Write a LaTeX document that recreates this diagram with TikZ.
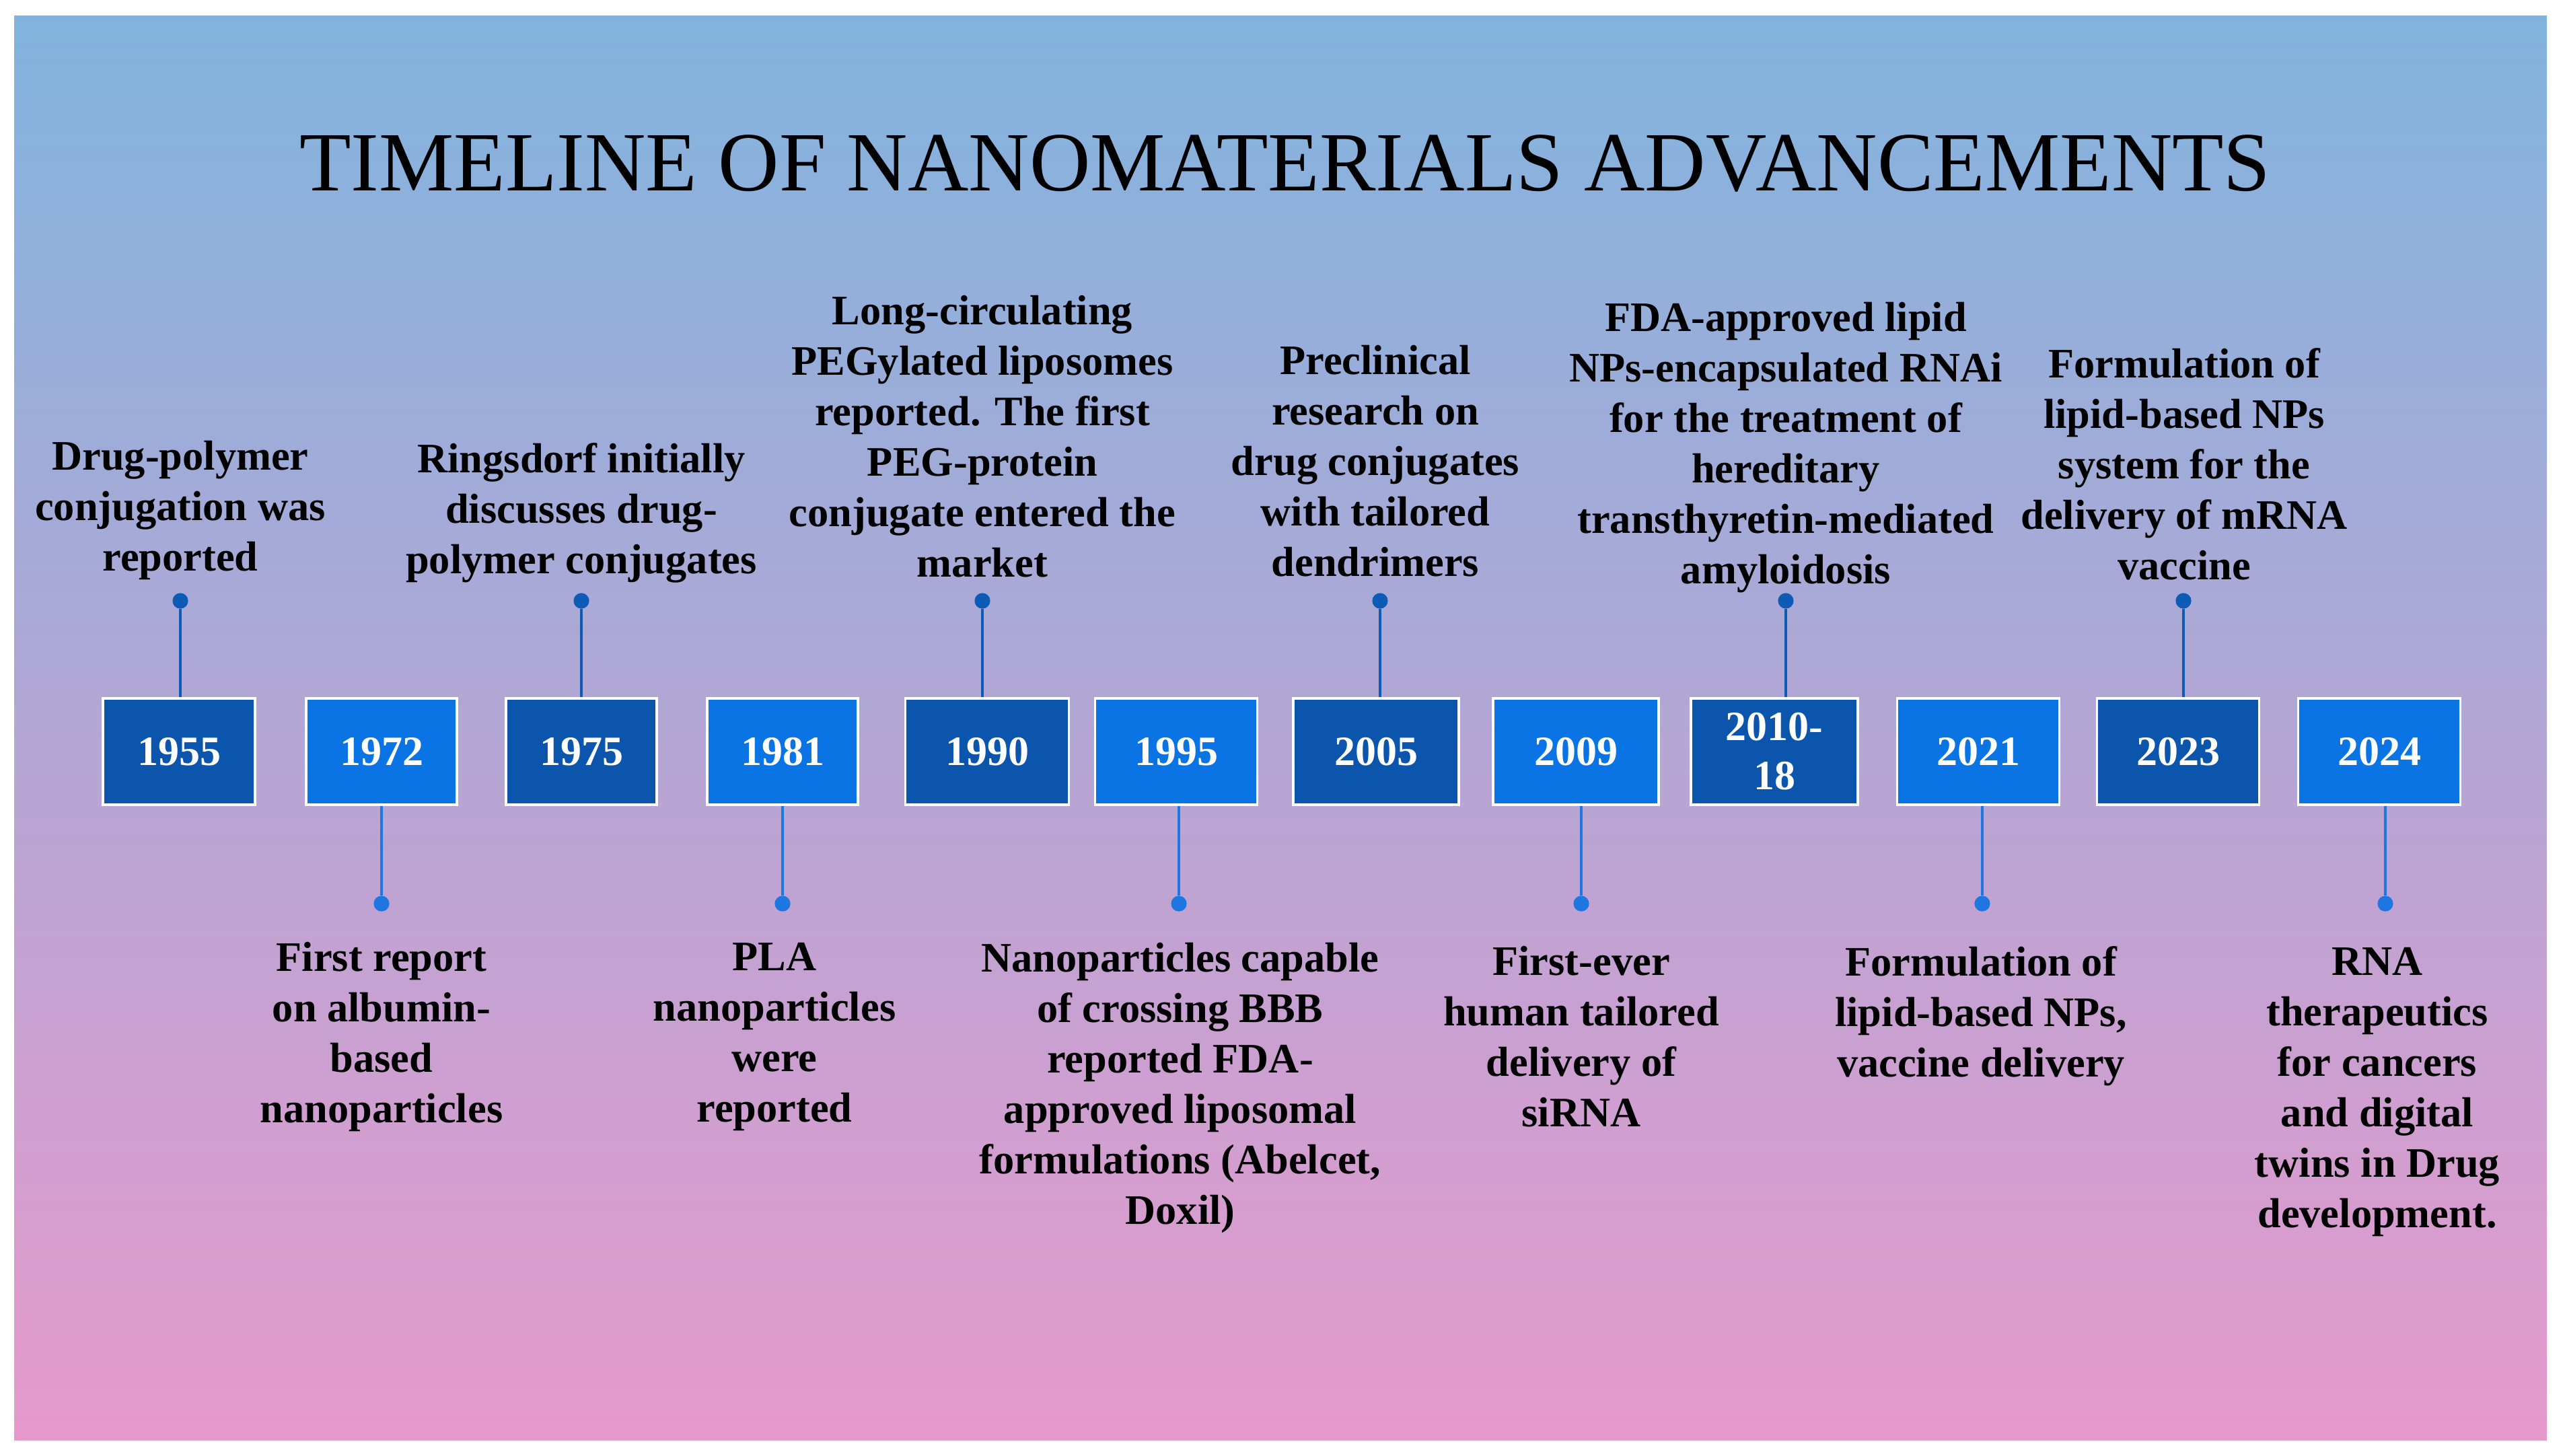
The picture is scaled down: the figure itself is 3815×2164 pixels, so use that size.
\documentclass[tikz,border=0pt]{standalone}
\usepackage{fontspec}
\setmainfont{Liberation Serif}
\definecolor{bgtop}{RGB}{128,180,222}
\definecolor{bgmid}{RGB}{168,160,210}
\definecolor{bgbot}{RGB}{230,153,204}
\definecolor{boxdark}{RGB}{11,86,172}
\definecolor{boxlight}{RGB}{10,116,228}
\definecolor{stemdark}{RGB}{13,91,181}
\definecolor{stemlight}{RGB}{30,118,225}
\begin{document}
\begin{tikzpicture}[x=0.25pt,y=-0.25pt,
  yearbox/.style={draw=white, line width=0.9pt, minimum height=39.5pt, inner sep=0pt,
    font=\bfseries\fontsize{15.5}{18.3}\selectfont, text=white, align=center},
  darkbox/.style={yearbox, fill=boxdark},
  lightbox/.style={yearbox, fill=boxlight},
  dotdark/.style={circle, fill=stemdark, minimum size=5.8pt, inner sep=0pt},
  dotlight/.style={circle, fill=stemlight, minimum size=5.8pt, inner sep=0pt},
  stemD/.style={draw=stemdark, line width=0.8pt},
  stemL/.style={draw=stemlight, line width=0.8pt},
  evtext/.style={font=\bfseries\fontsize{15.6}{18.75}\selectfont, align=center, text=black, inner sep=0pt}]
\useasboundingbox (0,0) rectangle (3815,2164);
\fill[white] (0,0) rectangle (3815,2164);
\shade[top color=bgtop, middle color=bgmid, bottom color=bgbot] (21,23) rectangle (3785,2140);

\node[font=\fontsize{31.3}{36}\selectfont, inner sep=0pt] (title) at (1910,243) {TIMELINE OF NANOMATERIALS ADVANCEMENTS};

% year boxes
\node[darkbox, minimum width=56.5pt] (b1955) at (266,1117) {1955};
\node[lightbox, minimum width=56pt] (b1972) at (567,1117) {1972};
\node[darkbox, minimum width=56pt] (b1975) at (864,1117) {1975};
\node[lightbox, minimum width=56pt] (b1981) at (1163,1117) {1981};
\node[darkbox, minimum width=60.75pt] (b1990) at (1467,1117) {1990};
\node[lightbox, minimum width=60.25pt] (b1995) at (1748,1117) {1995};
\node[darkbox, minimum width=61.5pt] (b2005) at (2045,1117) {2005};
\node[lightbox, minimum width=61.5pt] (b2009) at (2342,1117) {2009};
\node[darkbox, minimum width=62pt] (b2010) at (2637,1117) {2010-\\18};
\node[lightbox, minimum width=60.25pt] (b2021) at (2940,1117) {2021};
\node[darkbox, minimum width=60.25pt] (b2023) at (3237,1117) {2023};
\node[lightbox, minimum width=60.25pt] (b2024) at (3536,1117) {2024};

% dots
\node[dotdark] (d1955) at (268,893) {};
\node[dotlight] (d1972) at (567,1343) {};
\node[dotdark] (d1975) at (864,893) {};
\node[dotlight] (d1981) at (1163,1343) {};
\node[dotdark] (d1990) at (1460,893) {};
\node[dotlight] (d1995) at (1752,1343) {};
\node[dotdark] (d2005) at (2051,893) {};
\node[dotlight] (d2009) at (2350,1343) {};
\node[dotdark] (d2010) at (2654,893) {};
\node[dotlight] (d2021) at (2946,1343) {};
\node[dotdark] (d2023) at (3245,893) {};
\node[dotlight] (d2024) at (3545,1343) {};

% stems
\draw[stemD] (d1955) -- (d1955 |- b1955.north);
\draw[stemL] (d1972) -- (d1972 |- b1972.south);
\draw[stemD] (d1975) -- (d1975 |- b1975.north);
\draw[stemL] (d1981) -- (d1981 |- b1981.south);
\draw[stemD] (d1990) -- (d1990 |- b1990.north);
\draw[stemL] (d1995) -- (d1995 |- b1995.south);
\draw[stemD] (d2005) -- (d2005 |- b2005.north);
\draw[stemL] (d2009) -- (d2009 |- b2009.south);
\draw[stemD] (d2010) -- (d2010 |- b2010.north);
\draw[stemL] (d2021) -- (d2021 |- b2021.south);
\draw[stemD] (d2023) -- (d2023 |- b2023.north);
\draw[stemL] (d2024) -- (d2024 |- b2024.south);

% top texts
\node[evtext] (t1955) at (268,758) {Drug-polymer\\conjugation was\\reported};
\node[evtext] (t1975) at (864,762) {Ringsdorf initially\\discusses drug-\\polymer conjugates};
\node[evtext] (t1990) at (1460,649) {Long-circulating\\PEGylated liposomes\\reported. The first\\PEG-protein\\conjugate entered the\\market};
\node[evtext] (t2005) at (2044,685) {Preclinical\\research on\\drug conjugates\\with tailored\\dendrimers};
\node[evtext] (t2010) at (2654,665) {FDA-approved lipid\\NPs-encapsulated RNAi\\for the treatment of\\hereditary\\transthyretin-mediated\\amyloidosis};
\node[evtext] (t2023) at (3246,690) {Formulation of\\lipid-based NPs\\system for the\\delivery of mRNA\\vaccine};

% bottom texts
\node[evtext] (t1972) at (567,1541) {First report\\on albumin-\\based\\nanoparticles};
\node[evtext] (t1981) at (1151,1541) {PLA\\nanoparticles\\were\\reported};
\node[evtext] (t1995) at (1754,1617) {Nanoparticles capable\\of crossing BBB\\reported FDA-\\approved liposomal\\formulations (Abelcet,\\Doxil)};
\node[evtext] (t2009) at (2350,1541) {First-ever\\human tailored\\delivery of\\siRNA};
\node[evtext] (t2021) at (2944,1510) {Formulation of\\lipid-based NPs,\\vaccine delivery};
\node[evtext] (t2024) at (3533,1623) {RNA\\therapeutics\\for cancers\\and digital\\twins in Drug\\development.};
\end{tikzpicture}
\end{document}
